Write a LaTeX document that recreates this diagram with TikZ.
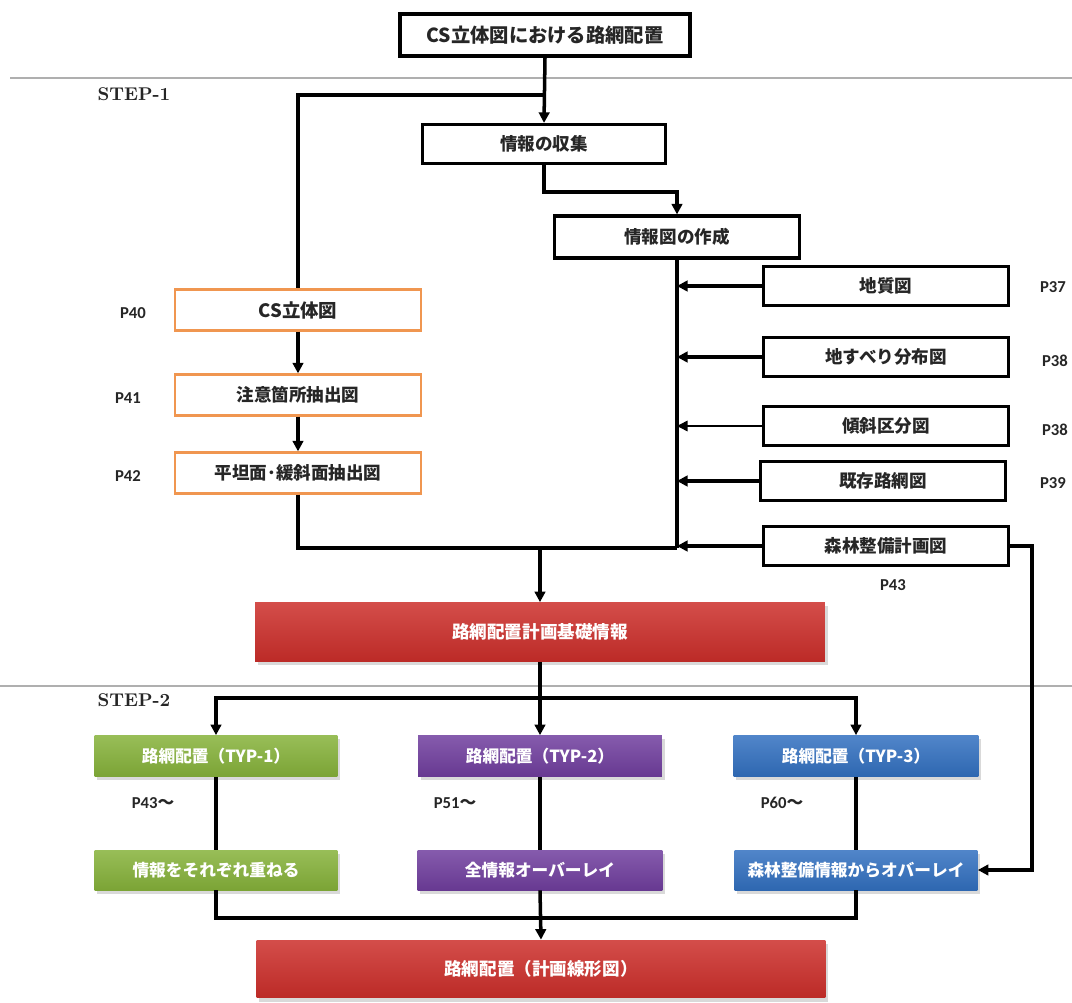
\documentclass[tikz,border=0pt]{standalone}
\usepackage{fontspec}
\newfontfamily\jp{Noto Sans CJK JP}
\newfontfamily\pfont{Carlito}
\usetikzlibrary{arrows.meta, shadows}

\definecolor{stepgrey}{RGB}{175,175,175}
\definecolor{csorange}{RGB}{240,150,80}
\definecolor{planred}{RGB}{204,46,42}
\definecolor{typgreen}{RGB}{134,178,58}
\definecolor{typpurple}{RGB}{112,62,158}
\definecolor{typblue}{RGB}{50,112,192}

\begin{document}
\begin{tikzpicture}[
    x=0.02cm, y=-0.02cm,
    >={Triangle[length=6pt,width=6pt]},
    box/.style={draw, line width=1.8pt, minimum height=0.8cm, inner sep=1pt, font=\jp\bfseries\fontsize{10}{12}\selectfont, text=black!85},
    csbox/.style={box, draw=csorange, line width=1.3pt, minimum width=4.92cm, minimum height=0.82cm},
    mapbox/.style={box, minimum width=4.9cm, minimum height=0.79cm},
    fillbox/.style={minimum height=0.82cm, inner sep=1pt, text=white, font=\jp\bfseries\fontsize{9.5}{12}\selectfont,
        top color=#1!85!white, bottom color=#1!92!black, drop shadow={opacity=0.3, shadow xshift=1.5pt, shadow yshift=-2pt}},
    plabel/.style={font=\pfont\bfseries\fontsize{9.5}{12}\selectfont, text=black!85},
    steplabel/.style={font=\bfseries\fontsize{10.5}{12}\selectfont, text=black!85},
    line/.style={line width=2pt},
    directed/.style={->, line width=2pt}
]
    \useasboundingbox (0,0) rectangle (1072,1003);

    % Step dividers
    \draw[stepgrey, line width=1pt] (10,78) -- (1072,78);
    \draw[stepgrey, line width=1pt] (0,686) -- (1072,686);
    \node[steplabel] (step1) at (134,94) {STEP-1};
    \node[steplabel] (step2) at (134,700) {STEP-2};

    % STEP-1 nodes
    \node[box, minimum width=5.8cm, minimum height=0.84cm, font=\jp\bfseries\fontsize{11}{13}\selectfont] (top) at (545,35) {CS立体図における路網配置};
    \node[box, minimum width=4.86cm, minimum height=0.78cm] (collect) at (544,144) {情報の収集};
    \node[box, minimum width=4.9cm, minimum height=0.84cm] (makemap) at (677,237) {情報図の作成};

    \node[mapbox] (geo) at (886,286) {地質図};
    \node[mapbox] (slide) at (886,357) {地すべり分布図};
    \node[mapbox] (slope) at (886,426) {傾斜区分図};
    \node[mapbox] (road) at (883,481) {既存路網図};
    \node[mapbox] (forest) at (886,546) {森林整備計画図};

    \node[csbox, font=\jp\bfseries\fontsize{10.5}{12}\selectfont] (cs) at (298,310) {CS立体図};
    \node[csbox] (caution) at (298,395) {注意箇所抽出図};
    \node[csbox] (flat) at (298,473) {平坦面･緩斜面抽出図};

    \node[fillbox=planred, minimum width=11.4cm, minimum height=1.18cm, font=\jp\bfseries\fontsize{10}{12}\selectfont] (basis) at (540,632) {路網配置計画基礎情報};

    % Page references
    \node[plabel] (p37) at (1053,287) {P37};
    \node[plabel] (p38a) at (1055,361) {P38};
    \node[plabel] (p38b) at (1055,430) {P38};
    \node[plabel] (p39) at (1053,483) {P39};
    \node[plabel] (p43a) at (893,585) {P43};
    \node[plabel] (p40) at (133,313) {P40};
    \node[plabel] (p41) at (128,398) {P41};
    \node[plabel] (p42) at (128,476) {P42};

    % STEP-1 edges
    \coordinate (split1) at (544,95);
    \coordinate (merge) at (677,548);
    \coordinate (join1) at (540,548);
    \draw[directed] (top.south) -- (collect.north);
    \draw[line] (split1) -| (cs.north);
    \draw[directed] (collect.south) -- ++(0,27) -| (makemap.north);
    \draw[directed] (cs) -- (caution);
    \draw[directed] (caution) -- (flat);
    \draw[line] (makemap.south) -- (merge);
    \draw[line] (flat.south) |- (merge);
    \draw[directed] (geo.west) -- (geo.west -| merge);
    \draw[directed] (slide.west) -- (slide.west -| merge);
    \draw[->, line width=0.9pt] (slope.west) -- (slope.west -| merge);
    \draw[directed] (road.west) -- (road.west -| merge);
    \draw[directed] (forest.west) -- (forest.west -| merge);
    \draw[directed] (join1) -- (basis.north);

    % STEP-2 nodes
    \node[fillbox=typgreen, minimum width=4.86cm] (typ1) at (216,756) {路網配置（TYP-1）};
    \node[fillbox=typpurple, minimum width=4.88cm] (typ2) at (540,756) {路網配置（TYP-2）};
    \node[fillbox=typblue, minimum width=4.9cm] (typ3) at (856,756) {路網配置（TYP-3）};

    \node[fillbox=typgreen, minimum width=4.86cm, minimum height=0.8cm] (ov1) at (216,870) {情報をそれぞれ重ねる};
    \node[fillbox=typpurple, minimum width=4.9cm, minimum height=0.8cm] (ov2) at (540,870) {全情報オーバーレイ};
    \node[fillbox=typblue, minimum width=4.86cm, minimum height=0.8cm] (ov3) at (856,870) {森林整備情報からオバーレイ};

    \node[fillbox=planred, minimum width=11.38cm, minimum height=1.16cm, font=\jp\bfseries\fontsize{10}{12}\selectfont] (final) at (541,969) {路網配置（計画線形図）};

    \node[plabel] (p43b) at (153,803) {P43{\jp ～}};
    \node[plabel] (p51) at (455,803) {P51{\jp ～}};
    \node[plabel] (p60) at (782,803) {P60{\jp ～}};

    % STEP-2 edges
    \coordinate (split2) at (540,698);
    \coordinate (join2) at (540,918);
    \draw[directed] (basis.south) -- (typ2.north);
    \draw[directed] (split2) -| (typ1.north);
    \draw[directed] (split2) -| (typ3.north);
    \draw[line] (typ1.south) -- (ov1.north);
    \draw[line] (typ2.south) -- (ov2.north);
    \draw[line] (typ3.south) -- (ov3.north);
    \draw[line] (ov1.south) |- (join2);
    \draw[line] (ov3.south) |- (join2);
    \draw[directed] (ov2.south) -- (final.north);
    \draw[directed] (forest.east) -- ++(22,0) |- (ov3.east);
\end{tikzpicture}
\end{document}
